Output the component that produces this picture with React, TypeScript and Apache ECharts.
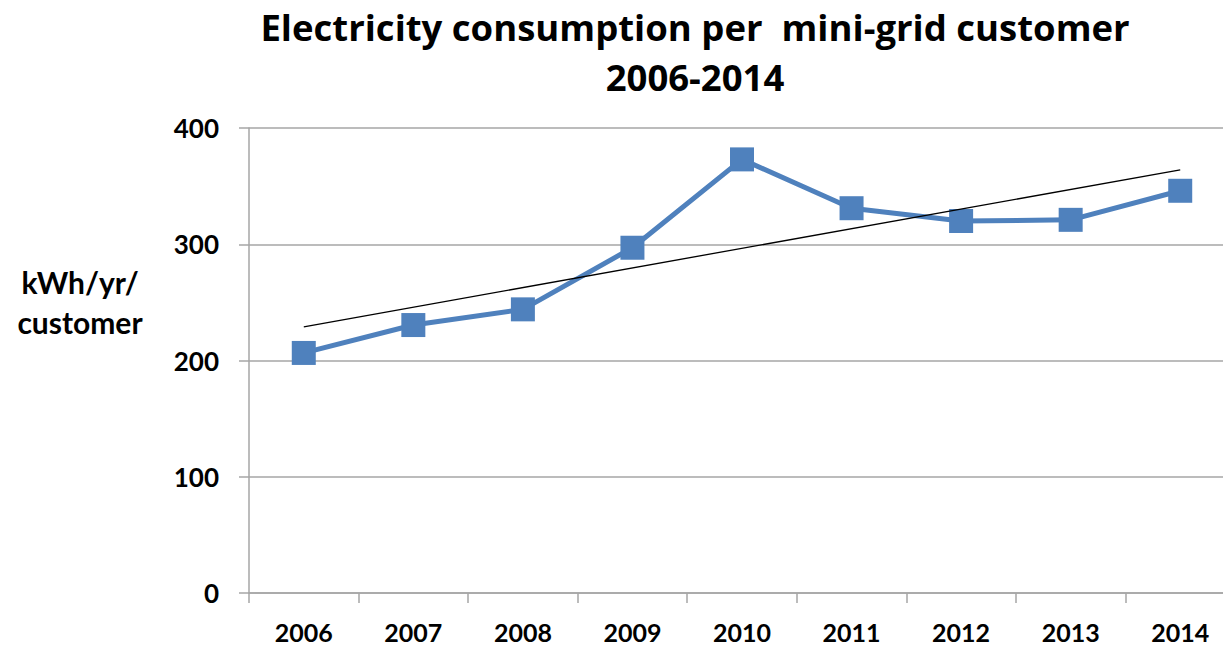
import React, { useEffect, useRef } from "react";
import * as echarts from "echarts";

const years = ["2006", "2007", "2008", "2009", "2010", "2011", "2012", "2013", "2014"];
const consumption = [206.5, 230.5, 244, 297, 373, 331, 320, 321, 346];
const trend = [229, null, null, null, null, null, null, null, 364];
const yTicks = [0, 100, 200, 300, 400];

export default function App() {
  const ref = useRef<HTMLDivElement>(null);
  useEffect(() => {
    const chart = echarts.init(ref.current!, null, { renderer: "svg" });
    const font = "Lato, 'Open Sans', sans-serif";
    const tfont = "'Open Sans', Lato, sans-serif";
    chart.setOption({
      animation: false,
      backgroundColor: "#ffffff",
      title: {
        text: "Electricity consumption per  mini-grid customer\n2006-2014",
        left: 690,
        textAlign: "center",
        top: -3,
        textStyle: { fontFamily: tfont, fontSize: 36.5, fontWeight: "bold", color: "#000", lineHeight: 50 },
      },
      graphic: [
        {
          type: "text",
          x: 80,
          y: 302,
          style: {
            text: "kWh/yr/\ncustomer",
            fontFamily: font,
            fontSize: 30,
            fontWeight: "bold",
            fill: "#000",
            align: "center",
            verticalAlign: "middle",
            lineHeight: 40,
          },
        },
      ],
      grid: { left: 249, right: 0, top: 128, bottom: 54, containLabel: false },
      xAxis: {
        type: "category",
        data: years,
        boundaryGap: true,
        axisLine: { lineStyle: { color: "#a6a6a6", width: 1.5 } },
        axisTick: { show: true, length: 10, alignWithLabel: false, lineStyle: { color: "#a6a6a6", width: 1.5 } },
        axisLabel: { fontFamily: font, fontSize: 25, fontWeight: "bold", color: "#000", margin: 26 },
      },
      yAxis: {
        type: "value",
        min: yTicks[0],
        max: yTicks[yTicks.length - 1],
        interval: 100,
        axisLine: { show: true, lineStyle: { color: "#a6a6a6", width: 1.5 } },
        axisTick: { show: true, length: 10, lineStyle: { color: "#a6a6a6", width: 1.5 } },
        splitLine: { lineStyle: { color: "#a6a6a6", width: 1.5 } },
        axisLabel: { fontFamily: font, fontSize: 26, fontWeight: "bold", color: "#000", margin: 30 },
      },
      series: [
        {
          type: "line",
          data: trend,
          connectNulls: true,
          symbol: "none",
          lineStyle: { color: "#000", width: 1.3 },
          z: 3,
        },
        {
          type: "line",
          data: consumption,
          symbol: "rect",
          symbolSize: 24,
          itemStyle: { color: "#4f81bd" },
          lineStyle: { color: "#4f81bd", width: 5 },
          z: 2,
        },
      ],
    });
    return () => chart.dispose();
  }, []);
  return (
    <div
      ref={ref}
      style={{ position: "fixed", left: 0, top: 0, width: 1235, height: 647 }}
    />
  );
}
